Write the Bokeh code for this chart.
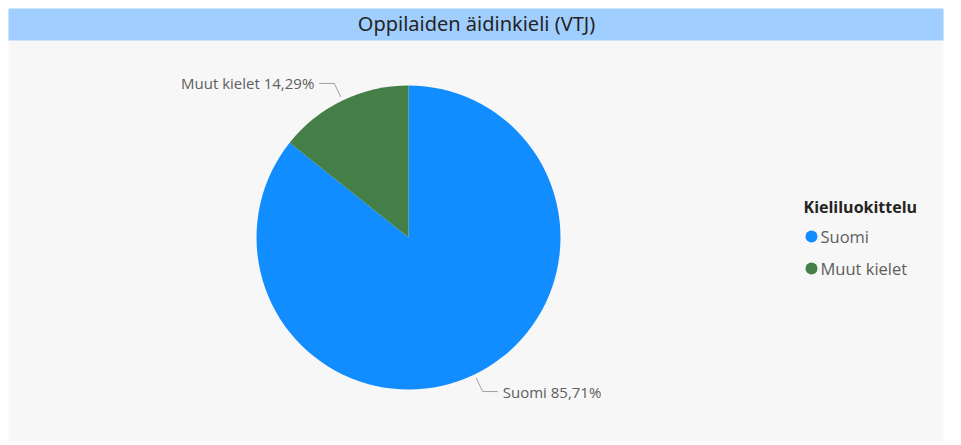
import math
from bokeh.plotting import figure
from bokeh.models import Range1d
from bokeh.core.properties import value
from bokeh.embed import file_html
from bokeh.resources import INLINE

# ---- data ----
categories = ["Suomi", "Muut kielet"]
shares = [85.71, 14.29]
colors = ["#118DFF", "#447F48"]
title_text = "Oppilaiden äidinkieli (VTJ)"
legend_title = "Kieliluokittelu"

W, H = 950, 443
p = figure(width=W, height=H, output_backend="svg", toolbar_location=None,
           x_range=Range1d(0, W), y_range=Range1d(0, H),
           min_border=0, background_fill_color="#FFFFFF",
           border_fill_color="#FFFFFF", outline_line_color=None)
p.axis.visible = False
p.grid.visible = False

def Y(py):  # page pixel (top-down) -> data y
    return H - py

# panel and title bar
p.quad(left=[8], right=[943], bottom=[Y(441)], top=[Y(8)], fill_color="#F7F7F7", line_color=None)
p.quad(left=[8], right=[943], bottom=[Y(40)], top=[Y(8)], fill_color="#A0CFFF", line_color=None)
p.text(x=[476], y=[Y(23)], text=[title_text], text_font=value("Noto Sans"),
       text_font_size="20px", text_color="#252423", text_align="center",
       text_baseline="middle")

# pie
cx, cy, r = 408, Y(237), 152
total = sum(shares)
a_top = math.pi / 2
muut_span = 2 * math.pi * shares[1] / total
starts = [a_top + muut_span, a_top]
ends = [a_top + 2 * math.pi, a_top + muut_span]
p.wedge(x=[cx] * 2, y=[cy] * 2, radius=r, start_angle=starts, end_angle=ends,
        fill_color=colors, line_color=None)

# labels with leader lines
r1, r2 = 156, 171
for i, cat in enumerate(categories):
    mid = (starts[i] + ends[i]) / 2
    x1, y1 = cx + r1 * math.cos(mid), cy + r1 * math.sin(mid)
    x2, y2 = cx + r2 * math.cos(mid), cy + r2 * math.sin(mid)
    side = 1 if math.cos(mid) >= 0 else -1
    x3 = x2 + side * 15
    p.line(x=[x1, x2, x3], y=[y1, y2, y2], line_color="#A0A0A0", line_width=1)
    label = f"{cat} {shares[i]:.2f}".replace(".", ",") + "%"
    p.text(x=[x3 + side * 5], y=[y2], text=[label], text_font=value("Open Sans"),
           text_font_size="15px", text_color="#605E5C",
           text_align="left" if side > 0 else "right", text_baseline="middle")

# legend
lx = 803
p.text(x=[lx], y=[Y(206)], text=[legend_title], text_font=value("Open Sans"),
       text_font_size="16px", text_font_style="bold", text_color="#252423",
       text_baseline="middle")
for i, cat in enumerate(categories):
    yy = Y(236 + 32 * i)
    p.scatter(x=[lx + 8], y=[yy], size=12, marker="circle", fill_color=colors[i], line_color=None)
    p.text(x=[lx + 17], y=[yy], text=[cat], text_font=value("Open Sans"),
           text_font_size="16.5px", text_color="#605E5C", text_baseline="middle")

open("out.html", "w").write(file_html(p, INLINE))
